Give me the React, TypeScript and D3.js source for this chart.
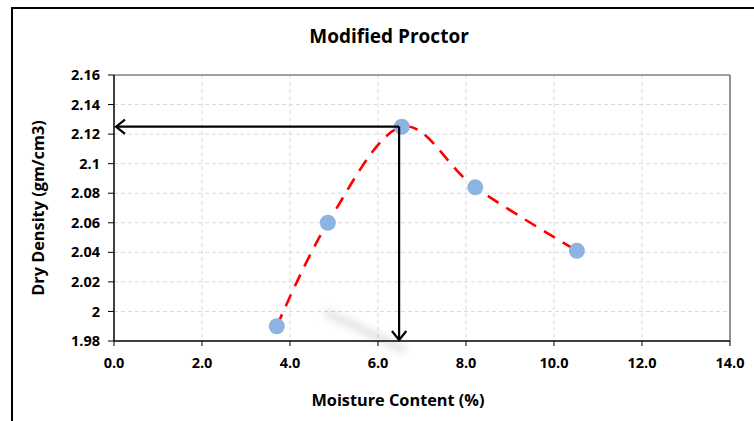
import React from 'react';
import * as d3 from 'd3';

// Proctor test readings
const moisture = [3.7, 4.86, 6.54, 8.21, 10.52];
const density = [1.99, 2.06, 2.125, 2.084, 2.041];

// optimum (read-off arrows)
const optMoisture = 6.48;
const optDensity = 2.125;

const xTicks = [0, 2, 4, 6, 8, 10, 12, 14];
const yTicks = [1.98, 2.0, 2.02, 2.04, 2.06, 2.08, 2.1, 2.12, 2.14, 2.16];

const W = 754;
const H = 421;
const FONT = "'Open Sans', 'DejaVu Sans', sans-serif";

const App = () => {
  const x = d3.scaleLinear().domain([0, 14]).range([114, 730]);
  const y = d3.scaleLinear().domain([1.98, 2.16]).range([341, 75]);

  const pts: [number, number][] = moisture.map((m, i) => [m, density[i]]);
  const line = d3.line<[number, number]>()
    .x(d => x(d[0])).y(d => y(d[1]))
    .curve(d3.curveCardinal.tension(0));

  const ax = x(optMoisture);
  const ay = y(optDensity);
  const x0 = x(0);
  const y0 = y(1.98);
  const head = 9;

  return (
    <svg width={W} height={H} style={{ position: 'absolute', left: 0, top: 0, background: '#fff' }}
      fontFamily={FONT}>
      <defs>
        <filter id="blur" x="-50%" y="-50%" width="200%" height="200%">
          <feGaussianBlur stdDeviation="4" />
        </filter>
        <filter id="soft" x="-50%" y="-50%" width="200%" height="200%">
          <feGaussianBlur stdDeviation="0.6" />
        </filter>
      </defs>

      {/* outer chart frame */}
      <rect x={12} y={8} width={W + 10} height={H + 10} fill="none" stroke="#000" strokeWidth={2} />

      <text x={389} y={43} textAnchor="middle" fontSize={19} fontWeight={700} fill="#000">
        Modified Proctor
      </text>

      {/* grid */}
      {xTicks.slice(1, -1).map(t => (
        <line key={'gx' + t} x1={x(t)} x2={x(t)} y1={y(2.16)} y2={y0}
          stroke="#d9d9d9" strokeDasharray="4,3" />
      ))}
      {yTicks.slice(1, -1).map(t => (
        <line key={'gy' + t} x1={x0} x2={x(14)} y1={y(t)} y2={y(t)}
          stroke="#d9d9d9" strokeDasharray="4,3" />
      ))}

      {/* plot border top / right */}
      <line x1={x0} x2={x(14)} y1={y(2.16)} y2={y(2.16)} stroke="#808080" strokeWidth={1.3} />
      <line x1={x(14)} x2={x(14)} y1={y(2.16)} y2={y0} stroke="#595959" strokeWidth={1.3} />

      {/* axes */}
      <line x1={x0} x2={x(14)} y1={y0} y2={y0} stroke="#000" strokeWidth={1.5} />
      <line x1={x0} x2={x0} y1={y(2.16)} y2={y0} stroke="#000" strokeWidth={1.5} />
      {yTicks.map(t => (
        <g key={'yt' + t}>
          <line x1={x0 - 6} x2={x0} y1={y(t)} y2={y(t)} stroke="#000" />
          <text x={x0 - 14} y={y(t)} dy="0.35em" textAnchor="end" fontSize={14.5} fontWeight={700} fill="#000">
            {String(+t.toFixed(2))}
          </text>
        </g>
      ))}
      {xTicks.map(t => (
        <g key={'xt' + t}>
          <line x1={x(t)} x2={x(t)} y1={y0} y2={y0 + 5} stroke="#000" />
          <text x={x(t)} y={y0 + 27} textAnchor="middle" fontSize={14.5} fontWeight={700} fill="#000">
            {t.toFixed(1)}
          </text>
        </g>
      ))}

      <text x={398} y={406} textAnchor="middle" fontSize={16.3} fontWeight={700} fill="#000">
        Moisture Content (%)
      </text>
      <text transform={`translate(44,208) rotate(-90)`} textAnchor="middle" fontSize={16.3} fontWeight={700} fill="#000">
        Dry Density (gm/cm3)
      </text>

      {/* arrow shadows */}
      <line x1={x0 + 10} x2={ax - 20} y1={ay + 8} y2={ay + 8} stroke="#000" strokeOpacity={0.12}
        strokeWidth={5} filter="url(#blur)" />
      <line x1={325} x2={405} y1={312} y2={350} stroke="#000" strokeOpacity={0.18}
        strokeWidth={5} filter="url(#blur)" />

      {/* fitted curve */}
      <path d={line(pts) || ''} fill="none" stroke="#ff0000" strokeWidth={2.6}
        strokeDasharray="13,9" />

      {/* markers */}
      {pts.map((p, i) => (
        <circle key={i} cx={x(p[0])} cy={y(p[1])} r={8} fill="#8db3e2" filter="url(#soft)" />
      ))}

      {/* read-off arrows */}
      <g stroke="#000" strokeWidth={2.2} fill="none">
        <path d={`M${ax},${ay}H${x0 + 2}`} />
        <path d={`M${x0 + 2 + head},${ay - head * 0.8}L${x0 + 2},${ay}L${x0 + 2 + head},${ay + head * 0.8}`} />
        <path d={`M${ax},${ay}V${y0 - 1}`} />
        <path d={`M${ax - head * 0.8},${y0 - 1 - head}L${ax},${y0 - 1}L${ax + head * 0.8},${y0 - 1 - head}`} />
      </g>
    </svg>
  );
};

export default App;
